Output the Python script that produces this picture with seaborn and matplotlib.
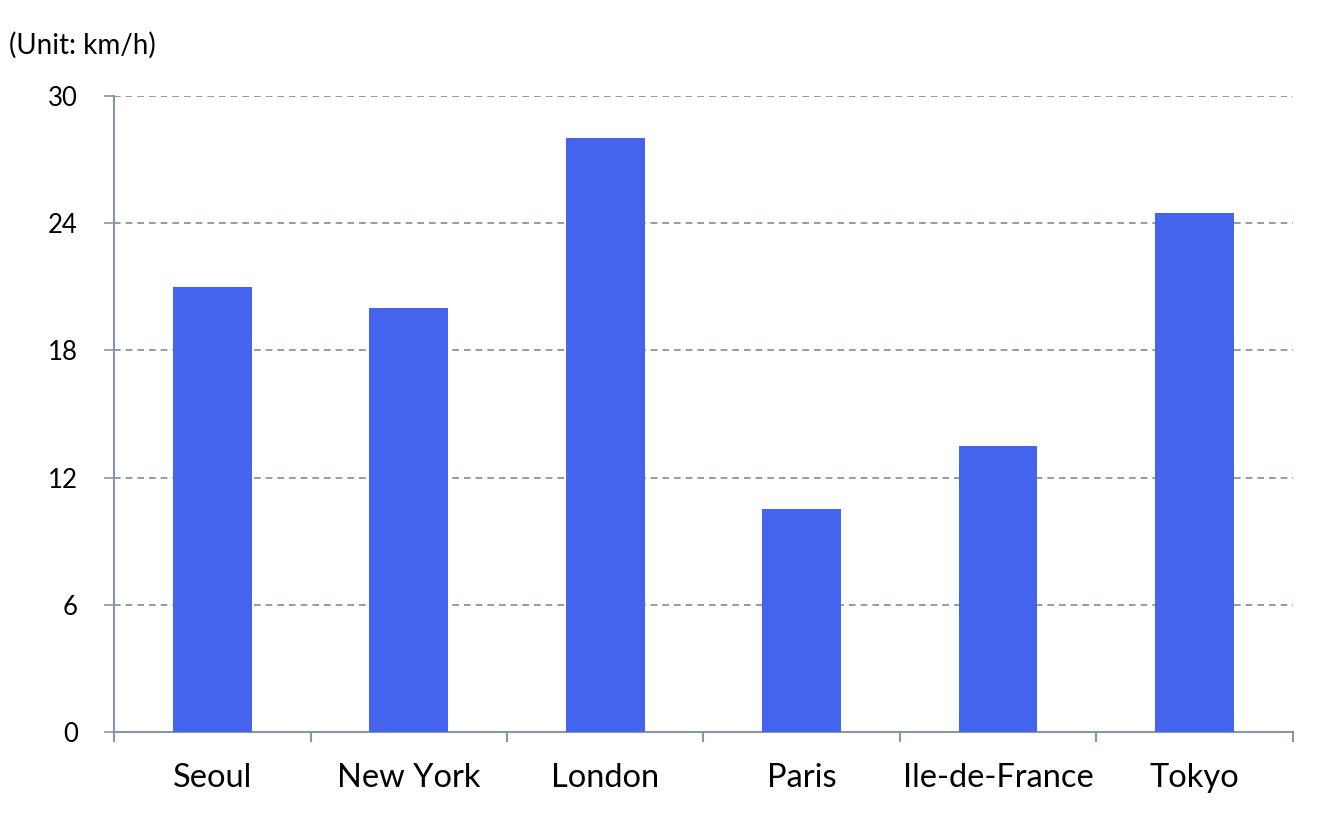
import matplotlib
matplotlib.use("Agg")
import matplotlib.pyplot as plt
import seaborn as sns
import pandas as pd
import numpy as np

cities = ["Seoul", "New York", "London", "Paris", "Ile-de-France", "Tokyo"]
speeds = [21.0, 20.0, 28.0, 10.5, 13.5, 24.5]
y_ticks = [0, 6, 12, 18, 24, 30]

sns.set_style("white")
plt.rcParams['font.family'] = ['Lato', 'DejaVu Sans']
plt.rcParams['xtick.bottom'] = True
plt.rcParams['ytick.left'] = True
plt.rcParams['text.color'] = 'black'
plt.rcParams['xtick.color'] = 'black'
plt.rcParams['ytick.color'] = 'black'

fig = plt.figure(figsize=(13.26, 8.17), dpi=100)
ax = fig.add_axes([0.086, 0.104, 0.889, 0.7785])

df = pd.DataFrame({"city": cities, "speed": speeds})
sns.barplot(data=df, x="city", y="speed", color="#4464EE", width=0.40,
            saturation=1, linewidth=0, ax=ax, zorder=3)

axis_col = "#8A96A3"
ax.set_ylim(0, 30)
ax.set_xlim(-0.5, 5.5)
ax.set_yticks(y_ticks)
ax.set_yticklabels([str(t) for t in y_ticks])
ax.yaxis.grid(True, linestyle=(0, (4, 3)), color="#7F8C99", linewidth=1.2, zorder=0)
ax.xaxis.grid(False)
ax.set_xlabel("")
ax.set_ylabel("")
ax.tick_params(axis="x", which="major", length=0, labelsize=23.5, pad=22,
               labelcolor="black")
ax.set_xticks(np.arange(-0.5, 6.0, 1.0), minor=True)
ax.tick_params(axis="x", which="minor", length=7, color=axis_col, width=1.5)
ax.tick_params(axis="y", length=7, color=axis_col, width=1.2, labelsize=18.5,
               pad=19, labelcolor="black")

for s in ["top", "right"]:
    ax.spines[s].set_visible(False)
for s in ["left", "bottom"]:
    ax.spines[s].set_color(axis_col)
    ax.spines[s].set_linewidth(1.5)

fig.text(0.007, 0.945, "(Unit: km/h)", fontsize=20, ha="left", va="center",
         color="black")

fig.savefig("out.png", dpi=100, facecolor="white")
